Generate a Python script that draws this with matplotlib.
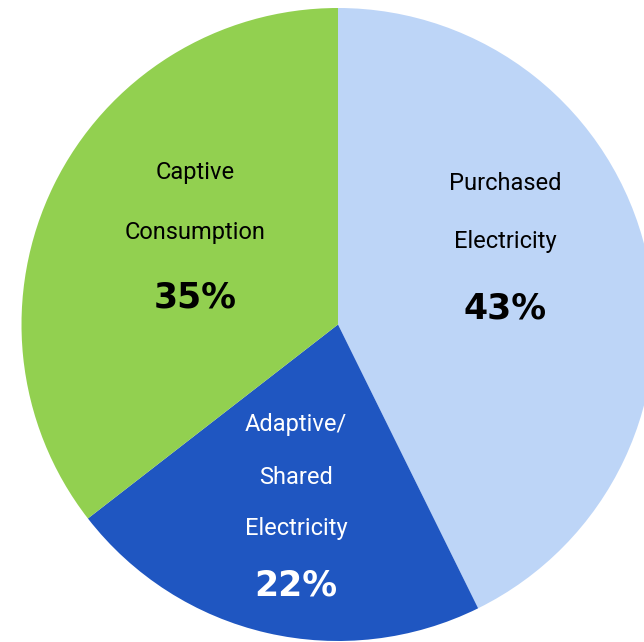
import matplotlib
matplotlib.use("Agg")
import matplotlib.pyplot as plt

# data (slice sizes, labels as printed)
labels = ["Purchased\nElectricity", "Adaptive/\nShared\nElectricity", "Captive\nConsumption"]
shares = [42.7, 21.8, 35.5]
pct_labels = ["43%", "22%", "35%"]
colors = ["#BDD5F7", "#1F56C1", "#92D050"]
text_colors = ["black", "white", "black"]
# label layout: pixel x, pixel y of first line, line gap, gap to percent
label_pos = [(505, 184, 58, 66), (296, 425, 52, 57), (195, 172, 60, 65)]

W, H = 644, 642
cx, cy, R = 338, 324.5, 316.5

fig = plt.figure(figsize=(W / 100, H / 100), dpi=100)
ax = fig.add_axes([0, 0, 1, 1])
ax.pie(shares, colors=colors, startangle=90, counterclock=False, radius=1,
       wedgeprops=dict(linewidth=0))
ax.set_xlim(-cx / R, (W - cx) / R)
ax.set_ylim(-(H - cy) / R, cy / R)
ax.set_aspect("auto")
ax.axis("off")

def px(x, y):
    return x / W, 1 - y / H

for lab, pct, c, (x, y, gap, pgap) in zip(labels, pct_labels, text_colors, label_pos):
    lines = lab.split("\n")
    for i, ln in enumerate(lines):
        fx, fy = px(x, y + i * gap)
        ax.text(fx, fy, ln, transform=fig.transFigure, ha="center", va="center",
                fontsize=17, color=c, family=["Roboto", "DejaVu Sans"])
    fx, fy = px(x, y + (len(lines) - 1) * gap + pgap)
    ax.text(fx, fy, pct, transform=fig.transFigure, ha="center", va="center",
            fontsize=25, fontweight="bold", color=c, family="DejaVu Sans")

fig.savefig("out.png", dpi=100)
